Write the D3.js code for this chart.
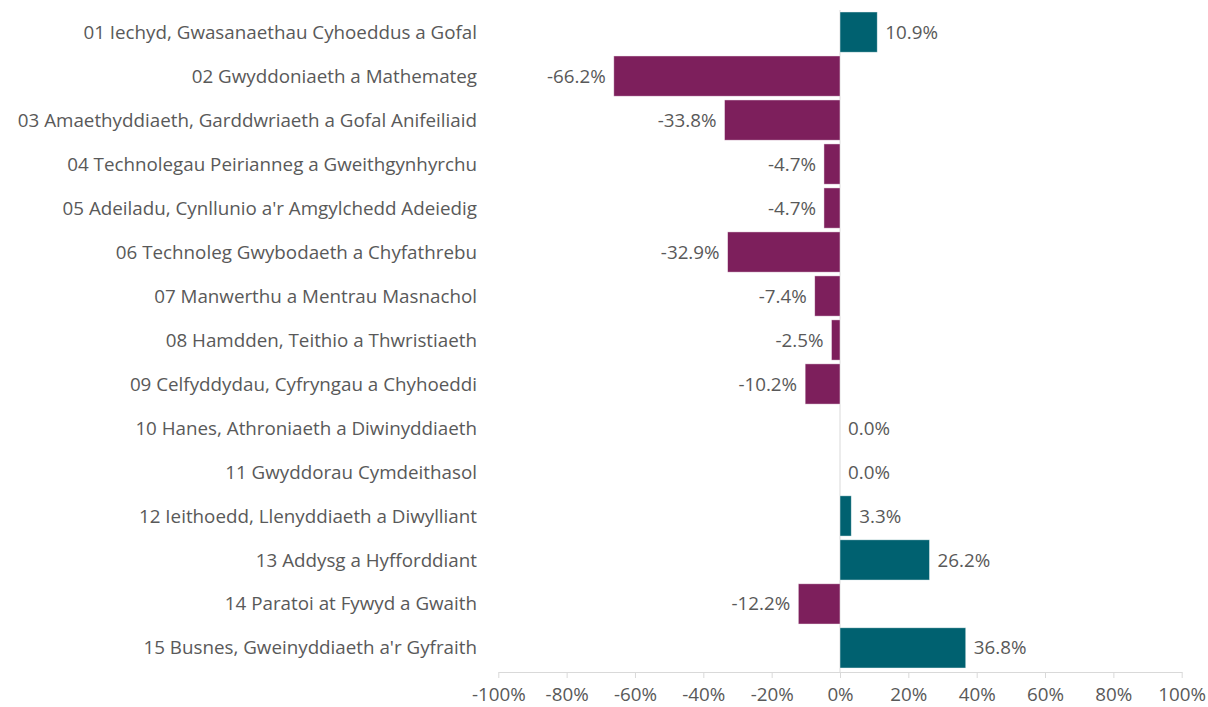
<!DOCTYPE html>
<html>
<head>
<meta charset="utf-8">
<script src="https://cdn.jsdelivr.net/npm/d3@7"></script>
<style>
  body { margin: 0; background: #fff; }
  text { font-family: "Open Sans", "Noto Sans", sans-serif; fill: #595959; }
</style>
</head>
<body>
<svg id="chart"></svg>
<script>
const categories = [
  "01 Iechyd, Gwasanaethau Cyhoeddus a Gofal",
  "02 Gwyddoniaeth a Mathemateg",
  "03 Amaethyddiaeth, Garddwriaeth a Gofal Anifeiliaid",
  "04 Technolegau Peirianneg a Gweithgynhyrchu",
  "05 Adeiladu, Cynllunio a'r Amgylchedd Adeiedig",
  "06 Technoleg Gwybodaeth a Chyfathrebu",
  "07 Manwerthu a Mentrau Masnachol",
  "08 Hamdden, Teithio a Thwristiaeth",
  "09 Celfyddydau, Cyfryngau a Chyhoeddi",
  "10 Hanes, Athroniaeth a Diwinyddiaeth",
  "11 Gwyddorau Cymdeithasol",
  "12 Ieithoedd, Llenyddiaeth a Diwylliant",
  "13 Addysg a Hyfforddiant",
  "14 Paratoi at Fywyd a Gwaith",
  "15 Busnes, Gweinyddiaeth a'r Gyfraith"
];
const values = [10.9, -66.2, -33.8, -4.7, -4.7, -32.9, -7.4, -2.5, -10.2, 0.0, 0.0, 3.3, 26.2, -12.2, 36.8];
const tickValues = [-100, -80, -60, -40, -20, 0, 20, 40, 60, 80, 100];

const width = 1208, height = 707;
const posColor = "#006170", negColor = "#7D1F5C";
const fontSize = "18.8px";

const svg = d3.select("#chart").attr("width", width).attr("height", height);

const x = d3.scaleLinear().domain([-100, 100]).range([498.3, 1181.7]);
const y = d3.scaleBand().domain(categories).range([10, 670])
  .paddingInner(0.085).paddingOuter(0.045);

// zero line
svg.append("line")
  .attr("x1", x(0)).attr("x2", x(0))
  .attr("y1", 10).attr("y2", 672)
  .attr("stroke", "#d9d9d9").attr("stroke-width", 1);

// bars
svg.append("g").selectAll("rect")
  .data(values)
  .join("rect")
  .attr("x", d => x(Math.min(0, d)))
  .attr("y", (d, i) => y(categories[i]))
  .attr("width", d => Math.abs(x(d) - x(0)))
  .attr("height", y.bandwidth())
  .attr("fill", d => d >= 0 ? posColor : negColor)
  .attr("stroke", "#ffffff")
  .attr("stroke-opacity", 0.6)
  .attr("stroke-width", 0.75);

// value labels
svg.append("g").selectAll("text")
  .data(values)
  .join("text")
  .attr("x", d => d >= 0 ? x(d) + 8 : x(d) - 8)
  .attr("y", (d, i) => y(categories[i]) + y.bandwidth() / 2)
  .attr("dy", "0.35em")
  .attr("text-anchor", d => d >= 0 ? "start" : "end")
  .style("font-size", fontSize)
  .text(d => d.toFixed(1) + "%");

// category labels
svg.append("g").selectAll("text")
  .data(categories)
  .join("text")
  .attr("x", 477)
  .attr("y", d => y(d) + y.bandwidth() / 2)
  .attr("dy", "0.35em")
  .attr("text-anchor", "end")
  .style("font-size", fontSize)
  .text(d => d);

// x axis
const axis = svg.append("g")
  .attr("transform", "translate(0,672)")
  .call(d3.axisBottom(x).tickValues(tickValues).tickSize(6).tickSizeOuter(0)
    .tickFormat(d => d + "%"));
axis.select(".domain").attr("stroke", "#d9d9d9");
axis.selectAll(".tick line").attr("stroke", "#d9d9d9");
axis.selectAll(".tick text")
  .attr("y", 22)
  .attr("dy", "0.35em")
  .style("font-size", fontSize)
  .style("font-family", "'Open Sans', 'Noto Sans', sans-serif")
  .attr("fill", "#595959");
</script>
</body>
</html>
